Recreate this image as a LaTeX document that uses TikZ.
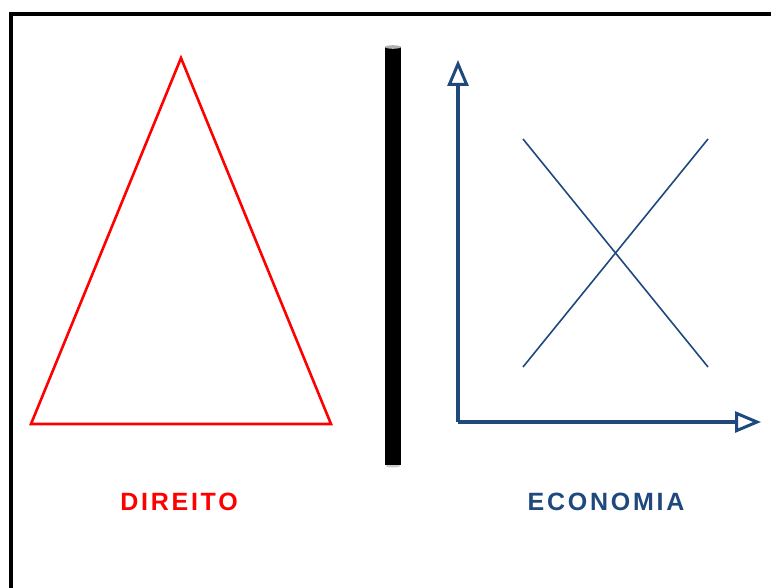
\documentclass[tikz,border=0pt]{standalone}
\usepackage{fontspec}
\setmainfont{Liberation Sans}
\usetikzlibrary{arrows.meta, positioning}
\definecolor{ecoblue}{RGB}{31,73,125}

\begin{document}
\begin{tikzpicture}[
	x=1pt, y=-1pt,
	frame/.style={draw=black, line width=4pt},
	triangle/.style={draw=red, line width=2.6pt, line join=miter},
	axis/.style={draw=ecoblue, line width=4pt, -{Triangle[open, length=26pt, width=21pt, line width=3pt]}},
	curve/.style={draw=ecoblue, line width=1.6pt},
	label/.style={font=\fontsize{25}{30}\selectfont\addfontfeature{LetterSpace=11}\bfseries}
	]
	\useasboundingbox (0,0) rectangle (771,588);
	
	% ======================
	% Rahmen
	% ======================
	\draw[frame] (11,14) rectangle (800,620);
	
	% ======================
	% Direito (links)
	% ======================
	\coordinate (A) at (31,424);
	\coordinate (B) at (331,424);
	\coordinate (C) at (181,58);
	\draw[triangle] (A) -- (B) -- (C) -- cycle;
	
	\node[label, text=red] (direito) at (179,502) {DIREITO};
	
	% ======================
	% Trennstab (Mitte)
	% ======================
	\fill[black] (385,47) rectangle (401,465);
	\fill[gray!60] (393,47) ellipse (8 and 1.8);
	\fill[gray!40] (393,466) ellipse (7 and 1.5);
	\fill[black] (385,465) rectangle (401,464);
	
	% ======================
	% Economia (rechts)
	% ======================
	\coordinate (O) at (458,422);
	\coordinate (Y) at (458,60);
	\coordinate (X) at (761,422);
	\draw[axis] (O) -- (Y);
	\draw[axis] (O) -- (X);
	
	% Angebot und Nachfrage
	\coordinate (D1) at (523,139);
	\coordinate (D2) at (708,367);
	\coordinate (S1) at (523,367);
	\coordinate (S2) at (708,139);
	\draw[curve] (D1) -- (D2);
	\draw[curve] (S1) -- (S2);
	
	\node[label, text=ecoblue] (economia) at (606,502) {ECONOMIA};
	
\end{tikzpicture}
\end{document}
